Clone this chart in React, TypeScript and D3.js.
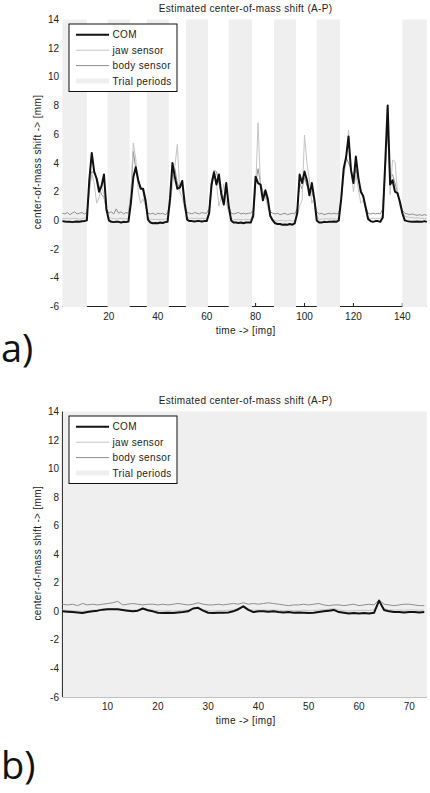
import React from "react";
import * as d3 from "d3";

// ---------- DATA ----------
const TITLE = "Estimated center-of-mass shift (A-P)";
const X_LABEL = "time -> [img]";
const Y_LABEL = "center-of-mass shift -> [mm]";
const SERIES_NAMES = ["COM", "jaw sensor", "body sensor", "Trial periods"];
const Y_TICKS = [-6, -4, -2, 0, 2, 4, 6, 8, 10, 12, 14];
const X_TICKS_A = [20, 40, 60, 80, 100, 120, 140];
const X_TICKS_B = [10, 20, 30, 40, 50, 60, 70];

// panel a (150 images)
const COM_A = [
  -0.05, -0.08, -0.1, -0.1, -0.12, -0.1, -0.08, -0.1, -0.06, -0.04,
  0.0, 2.8, 4.7, 3.4, 2.9, 2.0, 2.4, 3.2, 0.8, 0.0,
  -0.1, -0.12, -0.1, -0.1, -0.15, -0.1, -0.12, -0.08, 1.2, 3.0,
  3.7, 2.8, 2.2, 2.2, 1.4, 0.05, -0.15, -0.2, -0.18, -0.2,
  -0.15, -0.18, -0.12, -0.1, 1.5, 4.0, 3.0, 2.2, 2.3, 2.75,
  1.2, 0.05, -0.05, -0.05, -0.08, -0.05, -0.05, -0.08, -0.05, -0.05,
  0.5, 2.5, 3.35, 2.5, 3.2, 1.8, 1.1, 2.6, 1.0, 0.0,
  -0.15, -0.15, -0.18, -0.15, -0.2, -0.15, -0.15, -0.15, 0.3, 3.05,
  2.6, 2.5, 1.4, 2.1, 1.5, 0.3, 0.0, -0.2, -0.25, -0.25,
  -0.3, -0.28, -0.3, -0.25, -0.3, -0.2, 0.5, 3.2, 2.6, 3.4,
  2.8, 1.75, 2.6, 1.5, 0.0, -0.15, -0.15, -0.1, -0.12, -0.1,
  -0.1, -0.08, -0.1, 0.0, 1.5, 3.6, 4.4, 5.85, 3.5, 2.6,
  4.45, 3.0, 2.0, 1.7, 0.9, 0.1, -0.05, -0.1, -0.05, -0.05,
  -0.1, 0.2, 4.0, 8.0, 2.5, 2.8, 2.0, 1.9, 1.3, 0.5,
  0.0, -0.05, -0.08, -0.1, -0.1, -0.08, -0.1, -0.1, -0.05, -0.1,
];
const JAW_A = [
  0.15, 0.12, 0.15, 0.1, 0.12, 0.15, 0.12, 0.1, 0.12, 0.15,
  0.3, 2.0, 3.3, 2.6, 1.2, 1.6, 2.4, 1.8, 0.6, 0.2,
  0.15, 0.12, 0.1, 0.12, 0.15, 0.12, 0.1, 0.15, 2.0, 5.4,
  4.3, 2.0, 1.2, 1.5, 1.0, 0.2, 0.1, 0.05, 0.08, 0.05,
  0.08, 0.05, 0.1, 0.12, 1.0, 2.4, 3.8, 5.3, 2.0, 1.6,
  0.8, 0.2, 0.15, 0.15, 0.12, 0.15, 0.12, 0.15, 0.12, 0.15,
  0.6, 2.2, 3.5, 2.6, 1.0, 1.6, 2.5, 1.2, 0.6, 0.15,
  0.05, 0.05, 0.08, 0.05, 0.05, 0.08, 0.05, 0.08, 0.5, 2.0,
  6.8, 2.4, 2.0, 1.6, 0.9, 0.4, 0.1, 0.0, -0.05, 0.0,
  0.0, -0.05, 0.0, 0.0, -0.05, 0.0, 0.3, 1.0, 1.4, 5.95,
  4.0, 2.8, 1.2, 1.6, 0.4, 0.05, 0.1, 0.1, 0.12, 0.1,
  0.12, 0.1, 0.1, 0.15, 1.5, 3.0, 4.2, 6.3, 3.6, 2.0,
  3.2, 2.2, 1.2, 1.4, 0.8, 0.2, 0.12, 0.15, 0.12, 0.15,
  0.12, 0.4, 3.2, 7.5, 1.8, 4.2, 4.1, 2.0, 1.0, 0.6,
  0.3, 0.25, 0.2, 0.2, 0.15, 0.2, 0.15, 0.15, 0.12, 0.15,
];
const BODY_A = [
  0.5, 0.45, 0.55, 0.4, 0.5, 0.6, 0.45, 0.5, 0.55, 0.45,
  0.5, 2.2, 3.4, 3.3, 3.0, 2.4, 1.8, 1.6, 0.8, 0.5,
  0.6, 0.45, 0.8, 0.5, 0.6, 0.45, 0.55, 0.5, 1.8, 4.8,
  3.6, 2.8, 2.4, 2.0, 1.0, 0.5, 0.45, 0.5, 0.4, 0.5,
  0.45, 0.5, 0.4, 0.5, 1.2, 3.2, 3.6, 2.6, 2.2, 2.5,
  1.0, 0.55, 0.5, 0.45, 0.55, 0.5, 0.45, 0.55, 0.5, 0.5,
  0.8, 2.8, 3.5, 3.4, 2.6, 1.8, 1.6, 2.4, 1.0, 0.5,
  0.45, 0.5, 0.55, 0.45, 0.5, 0.45, 0.5, 0.5, 0.7, 2.6,
  3.6, 2.6, 2.0, 1.8, 1.2, 0.6, 0.5, 0.45, 0.5, 0.4,
  0.45, 0.5, 0.4, 0.45, 0.5, 0.45, 0.8, 2.6, 2.2, 3.0,
  2.4, 2.2, 2.0, 1.4, 0.6, 0.45, 0.5, 0.4, 0.45, 0.5,
  0.45, 0.5, 0.45, 0.5, 1.4, 3.2, 4.4, 4.0, 3.6, 2.8,
  3.6, 2.8, 2.2, 1.6, 1.0, 0.5, 0.45, 0.5, 0.45, 0.5,
  0.45, 0.8, 3.6, 6.2, 3.0, 3.2, 2.6, 2.0, 1.2, 0.7,
  0.5, 0.45, 0.4, 0.45, 0.4, 0.35, 0.4, 0.35, 0.4, 0.35,
];
const TRIAL_START_A = [1, 19.5, 35.5, 51.5, 69, 87.5, 105, 140];
const TRIAL_END_A = [11, 28.5, 44.5, 60.5, 78.5, 96.5, 114.5, 150];

// panel b (73 images)
const COM_B = [
  0.0, -0.02, -0.05, -0.08, -0.12, -0.05, 0.0, 0.05, 0.12, 0.15,
  0.15, 0.15, 0.1, 0.05, 0.0, 0.05, 0.2, 0.08, 0.0, -0.1,
  -0.12, -0.1, -0.12, -0.08, -0.05, 0.0, 0.2, 0.25, 0.05, -0.1,
  -0.12, -0.1, -0.1, -0.08, 0.0, 0.15, 0.35, 0.1, -0.05, 0.0,
  0.0, -0.02, 0.0, -0.05, -0.08, -0.05, -0.1, -0.08, -0.1, -0.12,
  -0.1, -0.05, 0.0, 0.05, 0.1, -0.05, -0.1, -0.15, -0.12, -0.15,
  -0.12, -0.15, -0.1, 0.75, 0.1, 0.0, -0.05, -0.05, -0.08, -0.05,
  -0.05, -0.08, -0.05,
];
const JAW_B = [
  0.1, 0.08, 0.05, 0.02, 0.0, 0.05, 0.08, 0.1, 0.15, 0.18,
  0.18, 0.15, 0.12, 0.1, 0.08, 0.1, 0.18, 0.12, 0.08, 0.05,
  0.02, 0.05, 0.02, 0.05, 0.08, 0.1, 0.2, 0.22, 0.12, 0.05,
  0.02, 0.05, 0.05, 0.08, 0.1, 0.2, 0.38, 0.15, 0.08, 0.1,
  0.1, 0.08, 0.1, 0.08, 0.05, 0.08, 0.05, 0.05, 0.08, 0.05,
  0.05, 0.1, 0.12, 0.15, 0.2, 0.1, 0.05, 0.02, 0.05, 0.05,
  0.08, 0.05, 0.1, 0.65, 0.2, 0.1, 0.08, 0.1, 0.08, 0.1,
  0.1, 0.08, 0.1,
];
const BODY_B = [
  0.5, 0.45, 0.5, 0.4, 0.55, 0.45, 0.5, 0.45, 0.5, 0.55,
  0.6, 0.7, 0.45, 0.5, 0.55, 0.5, 0.45, 0.5, 0.5, 0.45,
  0.5, 0.45, 0.5, 0.55, 0.5, 0.45, 0.5, 0.6, 0.5, 0.45,
  0.45, 0.5, 0.45, 0.5, 0.55, 0.5, 0.6, 0.5, 0.55, 0.5,
  0.55, 0.6, 0.55, 0.5, 0.45, 0.4, 0.45, 0.45, 0.5, 0.45,
  0.5, 0.55, 0.45, 0.4, 0.45, 0.45, 0.4, 0.45, 0.5, 0.4,
  0.45, 0.5, 0.45, 0.8, 0.5, 0.45, 0.4, 0.45, 0.5, 0.5,
  0.45, 0.4, 0.4,
];
const TRIAL_START_B = [1];
const TRIAL_END_B = [73.5];

// ---------- STYLE ----------
const FONT = "'Liberation Sans', Arial, Helvetica, sans-serif";
const COL_COM = "#111111";
const COL_JAW = "#c4c4c4";
const COL_BODY = "#8e8e8e";
const COL_BAND = "#efefef";
const LS = 0.35;

type PanelProps = {
  top: number;
  bottom: number;
  xDomain: [number, number];
  xTicks: number[];
  com: number[];
  jaw: number[];
  body: number[];
  bandStart: number[];
  bandEnd: number[];
  showYAxis: boolean;
};

const LEFT = 62.4;
const RIGHT = 426.8;

function Panel(p: PanelProps) {
  const x = d3.scaleLinear().domain(p.xDomain).range([LEFT, RIGHT]);
  const y = d3.scaleLinear().domain([-6, 14]).range([p.bottom, p.top]);
  const line = d3
    .line<number>()
    .x((_, i) => x(i + 1))
    .y((d) => y(d));
  const midX = (LEFT + RIGHT) / 2;
  const midY = (p.top + p.bottom) / 2;
  const lg = { x: 69, y: p.top + 4.5, w: 108, h: 67.5 };
  const rows = [lg.y + 10.8, lg.y + 26.2, lg.y + 41.6, lg.y + 57];
  return (
    <g>
      <text x={midX + 1} y={p.top - 7.5} fontSize={10} letterSpacing={LS} textAnchor="middle" fill="#222">
        {TITLE}
      </text>
      {/* x axis under the bands */}
      <line x1={LEFT} x2={RIGHT} y1={p.bottom} y2={p.bottom} stroke="#222" strokeWidth={1} />
      {p.xTicks.map((t) => (
        <line key={"xt" + t} x1={x(t)} x2={x(t)} y1={p.bottom} y2={p.bottom - 3.5} stroke="#222" />
      ))}
      {p.bandStart.map((s, i) => (
        <rect
          key={"b" + i}
          x={x(s)}
          y={p.top}
          width={x(p.bandEnd[i]) - x(s)}
          height={p.bottom - p.top + 0.5}
          fill={COL_BAND}
        />
      ))}
      {p.showYAxis && (
        <line x1={LEFT} x2={LEFT} y1={p.top} y2={p.bottom} stroke="#222" strokeWidth={1} />
      )}
      {Y_TICKS.map((t) => (
        <text
          key={"yl" + t}
          x={59}
          y={y(t)}
          dy="0.35em"
          fontSize={10}
          textAnchor="end"
          fill="#222"
        >
          {t}
        </text>
      ))}
      {p.xTicks.map((t) => (
        <text key={"xl" + t} x={x(t)} y={p.bottom + 13} fontSize={10} textAnchor="middle" fill="#222">
          {t}
        </text>
      ))}
      <text x={midX + 1} y={p.bottom + 27} fontSize={10} letterSpacing={LS} textAnchor="middle" fill="#222">
        {X_LABEL}
      </text>
      <text
        transform={`translate(40.5,${midY - 1}) rotate(-90)`}
        fontSize={10}
        letterSpacing={LS}
        textAnchor="middle"
        fill="#222"
      >
        {Y_LABEL}
      </text>
      {/* data */}
      <path d={line(p.body) || ""} fill="none" stroke={COL_BODY} strokeWidth={1} />
      <path d={line(p.jaw) || ""} fill="none" stroke={COL_JAW} strokeWidth={1} />
      <path d={line(p.com) || ""} fill="none" stroke={COL_COM} strokeWidth={2} strokeLinejoin="round" />
      {/* legend */}
      <rect x={lg.x} y={lg.y} width={lg.w} height={lg.h} fill="#fff" stroke="#111" strokeWidth={1} />
      <line x1={76} x2={109} y1={rows[0]} y2={rows[0]} stroke={COL_COM} strokeWidth={2} />
      <line x1={76} x2={109} y1={rows[1]} y2={rows[1]} stroke={COL_JAW} strokeWidth={1} />
      <line x1={76} x2={109} y1={rows[2]} y2={rows[2]} stroke={COL_BODY} strokeWidth={1} />
      <rect x={76} y={rows[3] - 2.5} width={33} height={5} fill={COL_BAND} />
      {SERIES_NAMES.map((n, i) => (
        <text key={n} x={112.5} y={rows[i]} dy="0.35em" fontSize={10} letterSpacing={LS} fill="#222">
          {n}
        </text>
      ))}
    </g>
  );
}

export default function App() {
  return (
    <svg
      width={430}
      height={793}
      style={{ position: "absolute", left: 0, top: 0, background: "#fff", fontFamily: FONT }}
    >
      <rect x={0} y={0} width={430} height={793} fill="#fff" />
      <Panel
        top={19.5}
        bottom={306.5}
        xDomain={[1, 150]}
        xTicks={X_TICKS_A}
        com={COM_A}
        jaw={JAW_A}
        body={BODY_A}
        bandStart={TRIAL_START_A}
        bandEnd={TRIAL_END_A}
        showYAxis={false}
      />
      <Panel
        top={411.5}
        bottom={697}
        xDomain={[1, 73.5]}
        xTicks={X_TICKS_B}
        com={COM_B}
        jaw={JAW_B}
        body={BODY_B}
        bandStart={TRIAL_START_B}
        bandEnd={TRIAL_END_B}
        showYAxis={true}
      />
      <text x={1} y={362} fontSize={38} fontFamily="'Open Sans', sans-serif" fill="#111">
        a)
      </text>
      <text x={1} y={779} fontSize={38} fontFamily="'Open Sans', sans-serif" fill="#111">
        b)
      </text>
    </svg>
  );
}
